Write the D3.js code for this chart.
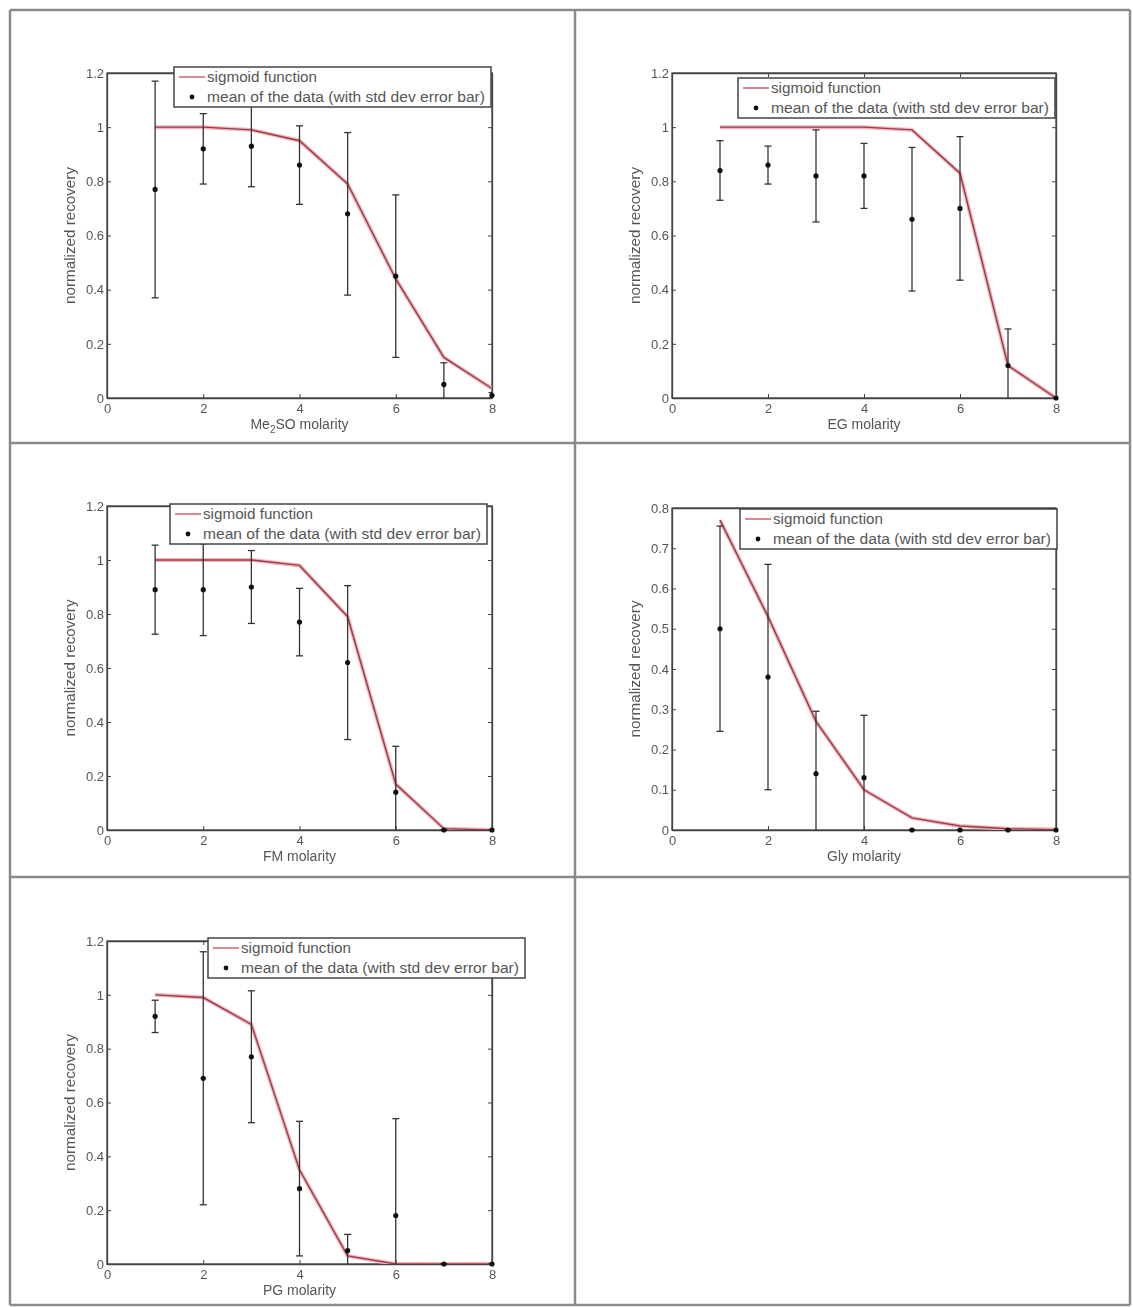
<!DOCTYPE html>
<html>
<head>
<meta charset="utf-8">
<script src="https://d3js.org/d3.v7.min.js"></script>
<style>
  body { margin: 0; background: #fff; }
  svg { display: block; filter: blur(0.4px); }
  text { font-family: 'Liberation Sans', Arial, sans-serif; fill: #555; }
  .axis path, .axis line { stroke: #444; }
  .axis text { font-size: 13px; fill: #555; }
</style>
</head>
<body>
<script>
/*jshint esversion: 6 */

// molarity values
const molarity = [1, 2, 3, 4, 5, 6, 7, 8];
const xTicks = [0, 2, 4, 6, 8];
const yTicksA = [0, 0.2, 0.4, 0.6, 0.8, 1, 1.2];
const yTicksB = [0, 0.1, 0.2, 0.3, 0.4, 0.5, 0.6, 0.7, 0.8];

// Me2SO
const me2soMean = [0.77, 0.92, 0.93, 0.86, 0.68, 0.45, 0.05, 0.01];
const me2soSd   = [0.40, 0.13, 0.15, 0.145, 0.30, 0.30, 0.08, 0.01];
const me2soFit  = [1.0, 1.0, 0.99, 0.95, 0.79, 0.44, 0.15, 0.035];
// EG
const egMean = [0.84, 0.86, 0.82, 0.82, 0.66, 0.70, 0.12, 0.0];
const egSd   = [0.11, 0.07, 0.17, 0.12, 0.265, 0.265, 0.135, 0.0];
const egFit  = [1.0, 1.0, 1.0, 1.0, 0.99, 0.83, 0.12, 0.0];
// FM
const fmMean = [0.89, 0.89, 0.90, 0.77, 0.62, 0.14, 0.0, 0.0];
const fmSd   = [0.165, 0.17, 0.135, 0.125, 0.285, 0.17, 0.0, 0.0];
const fmFit  = [1.0, 1.0, 1.0, 0.98, 0.79, 0.17, 0.005, 0.0];
// Gly
const glyMean = [0.50, 0.38, 0.14, 0.13, 0.0, 0.0, 0.0, 0.0];
const glySd   = [0.255, 0.28, 0.155, 0.155, 0.0, 0.0, 0.0, 0.0];
const glyFit  = [0.77, 0.53, 0.27, 0.10, 0.03, 0.01, 0.003, 0.001];
// PG
const pgMean = [0.92, 0.69, 0.77, 0.28, 0.05, 0.18, 0.0, 0.0];
const pgSd   = [0.06, 0.47, 0.245, 0.25, 0.06, 0.36, 0.0, 0.0];
const pgFit  = [1.0, 0.99, 0.89, 0.35, 0.03, 0.0, 0.0, 0.0];

const legendLabels = ['sigmoid function', 'mean of the data (with std dev error bar)'];

const panels = [
    {pre: 'Me', sub: '2', post: 'SO molarity', mean: me2soMean, sd: me2soSd, fit: me2soFit,
     yMax: 1.2, yTicks: yTicksA, box: [107, 73, 492, 398], legend: [174, 67]},
    {pre: 'EG molarity', mean: egMean, sd: egSd, fit: egFit,
     yMax: 1.2, yTicks: yTicksA, box: [672, 73, 1056, 398], legend: [738, 78]},
    {pre: 'FM molarity', mean: fmMean, sd: fmSd, fit: fmFit,
     yMax: 1.2, yTicks: yTicksA, box: [107, 506, 492, 830], legend: [170, 504]},
    {pre: 'Gly molarity', mean: glyMean, sd: glySd, fit: glyFit,
     yMax: 0.8, yTicks: yTicksB, box: [672, 508, 1056, 830], legend: [740, 509]},
    {pre: 'PG molarity', mean: pgMean, sd: pgSd, fit: pgFit,
     yMax: 1.2, yTicks: yTicksA, box: [107, 941, 492, 1264], legend: [208, 938]}
];

const svg = d3.select('body').append('svg')
    .attr('width', 1133)
    .attr('height', 1307);

// table grid around the figures
const grid = svg.append('g')
    .attr('stroke', '#8a8a8a')
    .attr('stroke-width', 2.5)
    .attr('fill', 'none');
[10, 443, 877, 1305].forEach(function(y) {
    grid.append('line').attr('x1', 10).attr('x2', 1130).attr('y1', y).attr('y2', y);
});
[10, 575, 1130].forEach(function(x) {
    grid.append('line').attr('x1', x).attr('x2', x).attr('y1', 10).attr('y2', 1305);
});

const fmt = d3.format('');

panels.forEach(function(p, i) {
    const [x0, y0, x1, y1] = p.box;
    const x = d3.scaleLinear().domain([0, 8]).range([x0, x1]);
    const y = d3.scaleLinear().domain([0, p.yMax]).range([y1, y0]);
    const g = svg.append('g');

    g.append('clipPath').attr('id', 'clip' + i)
        .append('rect')
        .attr('x', x0).attr('y', y0)
        .attr('width', x1 - x0).attr('height', y1 - y0);

    g.append('g').attr('class', 'axis')
        .attr('transform', 'translate(0,' + y1 + ')')
        .call(d3.axisBottom(x).tickValues(xTicks).tickFormat(fmt).tickSize(-4).tickPadding(6).tickSizeOuter(0));
    g.append('g').attr('class', 'axis')
        .attr('transform', 'translate(0,' + y0 + ')')
        .call(d3.axisTop(x).tickValues(xTicks).tickFormat('').tickSize(-4).tickSizeOuter(0));
    g.append('g').attr('class', 'axis')
        .attr('transform', 'translate(' + x0 + ',0)')
        .call(d3.axisLeft(y).tickValues(p.yTicks).tickFormat(fmt).tickSize(-4).tickPadding(3).tickSizeOuter(0));
    g.append('g').attr('class', 'axis')
        .attr('transform', 'translate(' + x1 + ',0)')
        .call(d3.axisRight(y).tickValues(p.yTicks).tickFormat('').tickSize(-4).tickSizeOuter(0));
    g.selectAll('.axis path').attr('stroke-width', 1.3);
    g.append('rect')
        .attr('x', x0).attr('y', y0)
        .attr('width', x1 - x0).attr('height', y1 - y0)
        .attr('fill', 'none')
        .attr('stroke', '#444')
        .attr('stroke-width', 1.3);

    const plot = g.append('g').attr('clip-path', 'url(#clip' + i + ')');

    // sigmoid fit
    const line = d3.line()
        .x(function(d, j) { return x(molarity[j]); })
        .y(function(d) { return y(d); });
    plot.append('path')
        .datum(p.fit)
        .attr('d', line)
        .attr('fill', 'none')
        .attr('stroke', '#f2b6bd')
        .attr('stroke-width', 4);
    plot.append('path')
        .datum(p.fit)
        .attr('d', line)
        .attr('fill', 'none')
        .attr('stroke', '#9a3a48')
        .attr('stroke-width', 1.4);

    // error bars
    const bars = plot.selectAll('.err')
        .data(p.mean)
        .enter().append('g')
        .attr('stroke', '#333')
        .attr('stroke-width', 1.3);
    bars.append('line')
        .attr('x1', function(d, j) { return x(molarity[j]); })
        .attr('x2', function(d, j) { return x(molarity[j]); })
        .attr('y1', function(d, j) { return y(d - p.sd[j]); })
        .attr('y2', function(d, j) { return y(d + p.sd[j]); });
    [-1, 1].forEach(function(s) {
        bars.append('line')
            .attr('x1', function(d, j) { return x(molarity[j]) - 3.5; })
            .attr('x2', function(d, j) { return x(molarity[j]) + 3.5; })
            .attr('y1', function(d, j) { return y(d + s * p.sd[j]); })
            .attr('y2', function(d, j) { return y(d + s * p.sd[j]); });
    });
    svg.append('g').selectAll('circle')
        .data(p.mean)
        .enter().append('circle')
        .attr('cx', function(d, j) { return x(molarity[j]); })
        .attr('cy', function(d) { return y(d); })
        .attr('r', 2.6)
        .attr('fill', '#111');

    // axis labels
    const xl = g.append('text')
        .attr('x', (x0 + x1) / 2)
        .attr('y', y1 + 31)
        .attr('text-anchor', 'middle')
        .style('font-size', '14px');
    xl.append('tspan').text(p.pre);
    if (p.sub) {
        xl.append('tspan').attr('dy', 4).style('font-size', '10px').text(p.sub);
        xl.append('tspan').attr('dy', -4).text(p.post);
    }
    g.append('text')
        .attr('transform', 'translate(' + (x0 - 32) + ',' + ((y0 + y1) / 2) + ') rotate(-90)')
        .attr('text-anchor', 'middle')
        .attr('textLength', 137)
        .attr('lengthAdjust', 'spacingAndGlyphs')
        .style('font-size', '14px')
        .text('normalized recovery');

    // legend
    const [lx, ly] = p.legend;
    const lg = svg.append('g').attr('transform', 'translate(' + lx + ',' + ly + ')');
    lg.append('rect')
        .attr('width', 317).attr('height', 40)
        .attr('fill', '#fff')
        .attr('stroke', '#444')
        .attr('stroke-width', 1.5);
    lg.append('line')
        .attr('x1', 5).attr('x2', 31).attr('y1', 10).attr('y2', 10)
        .attr('stroke', '#d98a95').attr('stroke-width', 2);
    lg.append('circle')
        .attr('cx', 18).attr('cy', 30).attr('r', 2.4).attr('fill', '#111');
    lg.append('text')
        .attr('x', 33).attr('y', 15)
        .attr('textLength', 110)
        .attr('lengthAdjust', 'spacingAndGlyphs')
        .style('font-size', '14px')
        .text(legendLabels[0]);
    lg.append('text')
        .attr('x', 33).attr('y', 35)
        .attr('textLength', 278)
        .attr('lengthAdjust', 'spacingAndGlyphs')
        .style('font-size', '14px')
        .text(legendLabels[1]);
});
</script>
</body>
</html>
